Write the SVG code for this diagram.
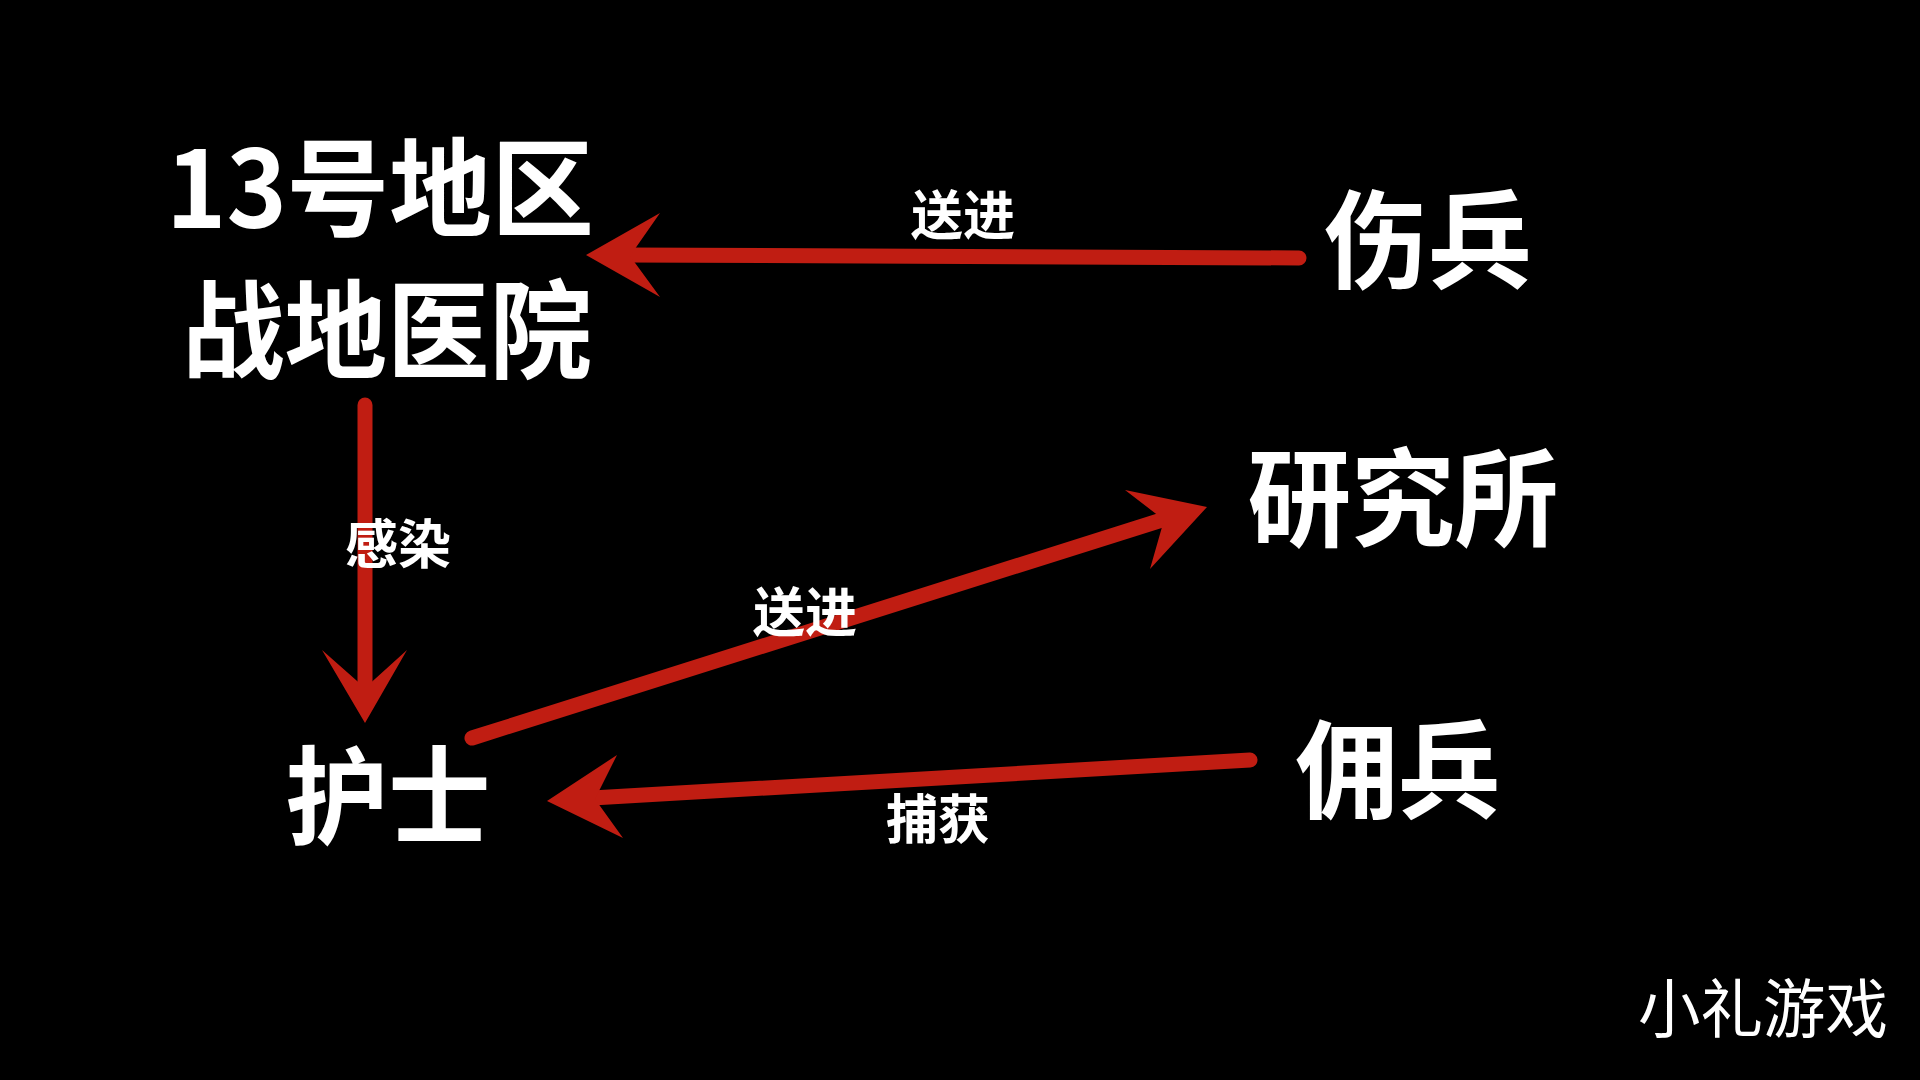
<svg xmlns="http://www.w3.org/2000/svg" width="1920" height="1080" viewBox="0 0 1920 1080">
<style>
.node{fill:#fff;font-family:"Noto Sans CJK SC","Noto Sans",sans-serif;font-weight:700;text-anchor:middle}
.big{font-size:107px}
.lbl{fill:#fff;font-family:"Noto Sans CJK SC","Noto Sans",sans-serif;font-weight:700;font-size:53px;text-anchor:middle}
.wm{fill:#fff;font-family:"Noto Sans CJK SC","Noto Sans",sans-serif;font-weight:400;font-size:64px;text-anchor:middle}
.ln{stroke:#c01d12;stroke-width:15;stroke-linecap:round;fill:none}
.hd{fill:#c01d12}
</style>
<rect width="1920" height="1080" fill="#000"/>
<g id="connectors">
<line class="ln" x1="1299" y1="258" x2="625" y2="255"/>
<polygon class="hd" points="586,255 660,213 630,256 660,297"/>
<line class="ln" x1="365" y1="405" x2="365" y2="688"/>
<polygon class="hd" points="365,723 322,650 365,688 407,650"/>
<line class="ln" x1="472" y1="738" x2="1165" y2="519"/>
<polygon class="hd" points="1207,507 1125,490 1164,520 1150,569"/>
<line class="ln" x1="1250" y1="760" x2="592" y2="798"/>
<polygon class="hd" points="547,801 617,755 595,799 623,838"/>
</g>
<g id="labels">
<text class="lbl" x="963" y="235" textLength="104" lengthAdjust="spacingAndGlyphs">送进</text>
<text class="lbl" x="398" y="564" textLength="106" lengthAdjust="spacingAndGlyphs">感染</text>
<text class="lbl" x="805" y="632" textLength="104" lengthAdjust="spacingAndGlyphs">送进</text>
<text class="lbl" x="938" y="839" textLength="104" lengthAdjust="spacingAndGlyphs">捕获</text>
</g>
<g id="node-hospital">
<text class="node big" x="380" y="228" textLength="428" lengthAdjust="spacingAndGlyphs">13号地区</text>
<text class="node big" x="387" y="370" textLength="410" lengthAdjust="spacingAndGlyphs">战地医院</text>
</g>
<g id="node-wounded"><text class="node big" x="1428" y="280" textLength="208" lengthAdjust="spacingAndGlyphs">伤兵</text></g>
<g id="node-lab"><text class="node big" x="1403" y="538" textLength="311" lengthAdjust="spacingAndGlyphs">研究所</text></g>
<g id="node-nurse"><text class="node big" x="388" y="836" textLength="205" lengthAdjust="spacingAndGlyphs">护士</text></g>
<g id="node-mercenary"><text class="node big" x="1398" y="810" textLength="205" lengthAdjust="spacingAndGlyphs">佣兵</text></g>
<g id="watermark"><text class="wm" x="1763" y="1032" textLength="250" lengthAdjust="spacingAndGlyphs">小礼游戏</text></g>
</svg>
